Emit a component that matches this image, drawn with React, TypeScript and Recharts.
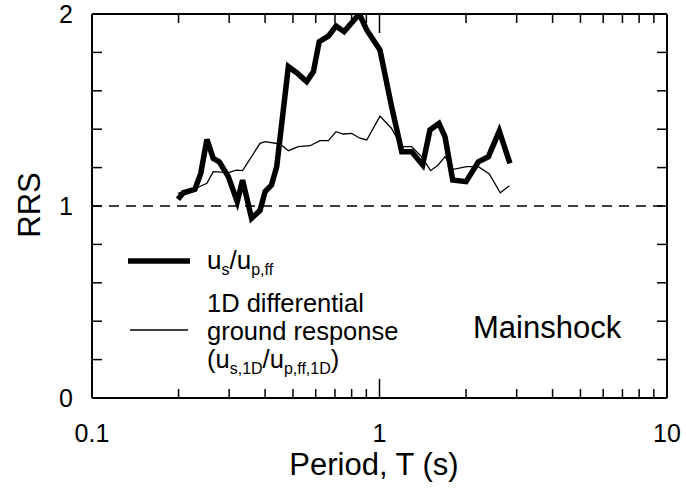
import React from "react";
import { LineChart, Line, XAxis, YAxis, ReferenceLine } from "recharts";

// ---- data ----
const thickPeriods = [0.199, 0.208, 0.228, 0.239, 0.251, 0.264, 0.277, 0.298, 0.32, 0.334, 0.359, 0.384, 0.4, 0.421, 0.439, 0.482, 0.515, 0.558, 0.589, 0.617, 0.664, 0.706, 0.753, 0.851, 0.903, 1.004, 1.102, 1.195, 1.294, 1.413, 1.498, 1.61, 1.69, 1.797, 2.0, 2.207, 2.393, 2.61, 2.843];
const thickRRS = [1.035, 1.069, 1.087, 1.17, 1.347, 1.248, 1.23, 1.153, 1.022, 1.135, 0.936, 0.976, 1.075, 1.109, 1.205, 1.726, 1.694, 1.648, 1.7, 1.856, 1.885, 1.937, 1.908, 2.0, 1.917, 1.812, 1.517, 1.283, 1.283, 1.214, 1.396, 1.43, 1.36, 1.135, 1.127, 1.23, 1.257, 1.39, 1.222];

const thinPeriods = [0.199, 0.228, 0.251, 0.264, 0.298, 0.318, 0.334, 0.384, 0.4, 0.451, 0.482, 0.522, 0.573, 0.621, 0.664, 0.706, 0.748, 0.8, 0.855, 0.903, 1.004, 1.1, 1.195, 1.294, 1.4, 1.506, 1.6, 1.69, 1.806, 2.01, 2.207, 2.41, 2.63, 2.83];
const thinRRS = [1.066, 1.09, 1.118, 1.179, 1.174, 1.187, 1.184, 1.326, 1.335, 1.323, 1.288, 1.309, 1.314, 1.34, 1.34, 1.387, 1.375, 1.378, 1.353, 1.344, 1.468, 1.405, 1.309, 1.309, 1.257, 1.184, 1.214, 1.257, 1.191, 1.205, 1.205, 1.167, 1.069, 1.106];

const xTicks = [0.1, 0.2, 0.3, 0.4, 0.5, 0.6, 0.7, 0.8, 0.9, 1, 2, 3, 4, 5, 6, 7, 8, 9, 10];
const xLabels = [0.1, 1, 10];
const yTicks = [0, 0.2, 0.4, 0.6, 0.8, 1, 1.2, 1.4, 1.6, 1.8, 2];
const yLabels = [0, 1, 2];

const thickData = thickPeriods.map((x, i) => ({ x, y: thickRRS[i] }));
const thinData = thinPeriods.map((x, i) => ({ x, y: thinRRS[i] }));

const FONT = "'Liberation Sans', Arial, Helvetica, sans-serif";

const BottomTick = (props: any) => {
  const { x, y, payload } = props;
  const v = payload.value;
  const len = v === 1 ? 19 : 9;
  const edge = v === 0.1 || v === 10;
  return (
    <g>
      {!edge && <line x1={x} y1={y} x2={x} y2={y - len} stroke="#000" strokeWidth={1.5} />}
      {xLabels.includes(v) && (
        <text x={x} y={y + 44} textAnchor="middle" fontSize={25} fontFamily={FONT} fill="#000">
          {String(v)}
        </text>
      )}
    </g>
  );
};

const TopTick = (props: any) => {
  const { x, y, payload } = props;
  const v = payload.value;
  const len = v === 1 ? 19 : 9;
  const edge = v === 0.1 || v === 10;
  return <g>{!edge && <line x1={x} y1={y} x2={x} y2={y + len} stroke="#000" strokeWidth={1.5} />}</g>;
};

const LeftTick = (props: any) => {
  const { x, y, payload } = props;
  const v = payload.value;
  const edge = v === 0 || v === 2;
  return (
    <g>
      {!edge && <line x1={x} y1={y} x2={x + 10} y2={y} stroke="#000" strokeWidth={1.5} />}
      {yLabels.includes(v) && (
        <text x={x - 19} y={y + 9} textAnchor="end" fontSize={25} fontFamily={FONT} fill="#000">
          {String(v)}
        </text>
      )}
    </g>
  );
};

const RightTick = (props: any) => {
  const { x, y, payload } = props;
  const v = payload.value;
  const edge = v === 0 || v === 2;
  return <g>{!edge && <line x1={x} y1={y} x2={x - 10} y2={y} stroke="#000" strokeWidth={1.5} />}</g>;
};

export default function App() {
  return (
    <div style={{ position: "absolute", left: 0, top: 0, width: 686, height: 488 }}>
      <LineChart
        width={686}
        height={488}
        margin={{ top: 13, right: 9, bottom: 50, left: 32 }}
        style={{ fontFamily: FONT, overflow: "visible" }}
      >
        <XAxis
          xAxisId="bottom"
          dataKey="x"
          type="number"
          scale="log"
          domain={[0.1, 10]}
          allowDataOverflow
          ticks={xTicks}
          interval={0}
          height={40}
          tickLine={false}
          tickSize={0}
          tickMargin={0}
          tick={BottomTick}
          axisLine={{ stroke: "#000", strokeWidth: 2 }}
        />
        <XAxis
          xAxisId="top"
          orientation="top"
          dataKey="x"
          type="number"
          scale="log"
          domain={[0.1, 10]}
          allowDataOverflow
          ticks={xTicks}
          interval={0}
          height={1}
          tickLine={false}
          tickSize={0}
          tickMargin={0}
          tick={TopTick}
          axisLine={{ stroke: "#000", strokeWidth: 2 }}
        />
        <YAxis
          yAxisId="left"
          type="number"
          domain={[0, 2]}
          allowDataOverflow
          ticks={yTicks}
          interval={0}
          width={60}
          tickLine={false}
          tickSize={0}
          tickMargin={0}
          tick={LeftTick}
          axisLine={{ stroke: "#000", strokeWidth: 2 }}
        />
        <YAxis
          yAxisId="right"
          orientation="right"
          type="number"
          domain={[0, 2]}
          allowDataOverflow
          ticks={yTicks}
          interval={0}
          width={10}
          tickLine={false}
          tickSize={0}
          tickMargin={0}
          tick={RightTick}
          axisLine={{ stroke: "#000", strokeWidth: 2 }}
        />
        <ReferenceLine
          xAxisId="bottom"
          yAxisId="left"
          y={1}
          stroke="#000"
          strokeWidth={1.5}
          strokeDasharray="10 7"
        />
        <Line
          xAxisId="bottom"
          yAxisId="left"
          data={thinData}
          dataKey="y"
          stroke="#000"
          strokeWidth={1.3}
          dot={false}
          isAnimationActive={false}
          strokeLinejoin="miter"
        />
        <Line
          xAxisId="bottom"
          yAxisId="left"
          data={thickData}
          dataKey="y"
          stroke="#000"
          strokeWidth={5.5}
          dot={false}
          isAnimationActive={false}
          strokeLinejoin="miter"
        />
        <g fontFamily={FONT} fill="#000">
          <text x={40} y={205} fontSize={31} textAnchor="middle" transform="rotate(-90, 40, 205)">
            RRS
          </text>
          <text x={374} y={475} fontSize={31} textAnchor="middle">
            Period, T (s)
          </text>
          <line x1={128} y1={261} x2={190} y2={261} stroke="#000" strokeWidth={5.5} />
          <text x={207} y={269} fontSize={26}>
            u<tspan fontSize={16} dy={6}>s</tspan>
            <tspan dy={-6}>/u</tspan>
            <tspan fontSize={16} dy={6}>p,ff</tspan>
          </text>
          <text x={207} y={312} fontSize={25.5}>1D differential</text>
          <text x={207} y={340} fontSize={25.5}>ground response</text>
          <line x1={130} y1={330} x2={188} y2={330} stroke="#000" strokeWidth={1.3} />
          <text x={207} y={368} fontSize={25.5}>
            (u<tspan fontSize={16} dy={6}>s,1D</tspan>
            <tspan dy={-6}>/u</tspan>
            <tspan fontSize={16} dy={6}>p,ff,1D</tspan>
            <tspan dy={-6}>)</tspan>
          </text>
          <text x={473} y={338} fontSize={31}>Mainshock</text>
        </g>
      </LineChart>
    </div>
  );
}
